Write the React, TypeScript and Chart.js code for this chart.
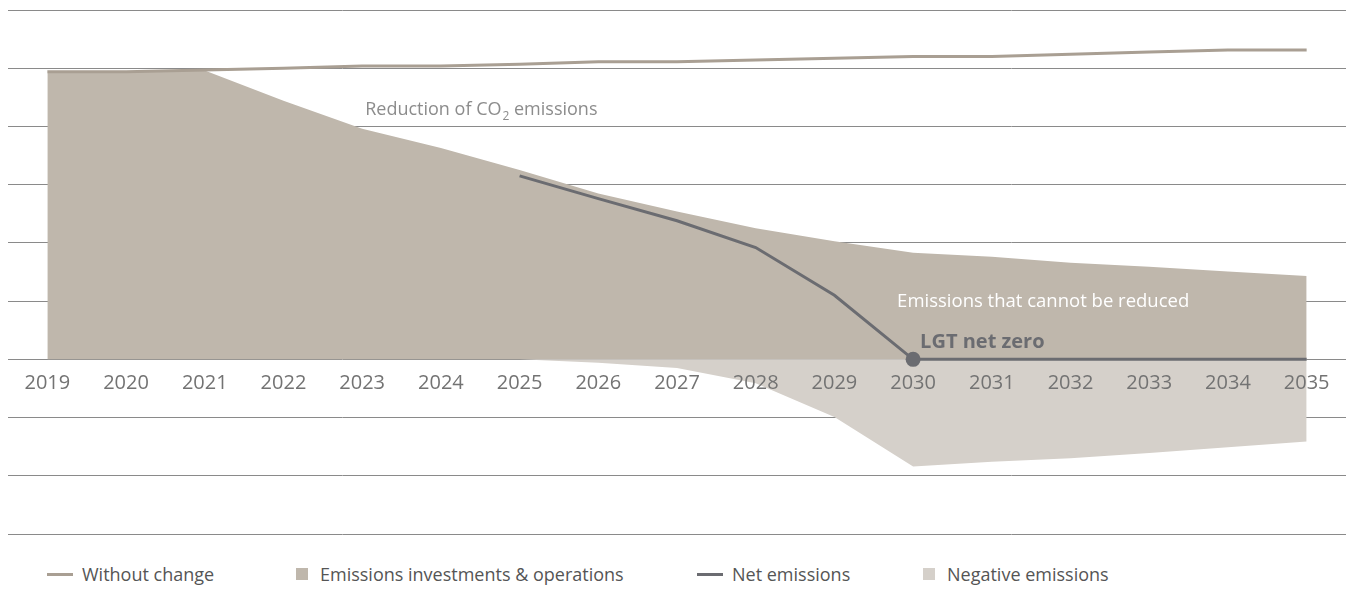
import React, { useEffect, useRef } from "react";
import { Chart, registerables } from "chart.js";

Chart.register(...registerables);

const years = ["2019", "2020", "2021", "2022", "2023", "2024", "2025", "2026", "2027", "2028", "2029", "2030", "2031", "2032", "2033", "2034", "2035"];

const withoutChange = [4.94, 4.94, 4.97, 5.0, 5.04, 5.04, 5.07, 5.11, 5.11, 5.14, 5.17, 5.2, 5.2, 5.24, 5.28, 5.315, 5.315];

const emissionsOperations = [4.92, 4.93, 4.96, 4.44, 3.96, 3.63, 3.25, 2.85, 2.54, 2.25, 2.03, 1.83, 1.76, 1.66, 1.59, 1.51, 1.43];

const netEmissions = [null, null, null, null, null, null, 3.15, 2.76, 2.38, 1.92, 1.1, 0, 0, 0, 0, 0, 0];

const negativeEmissions = [null, null, null, null, null, null, 0, -0.06, -0.15, -0.41, -0.99, -1.84, -1.76, -1.7, -1.61, -1.51, -1.41];

const netZeroIndex = 11;

const legendItems = [
  { label: "Without change", kind: "line", color: "#a99f93", left: 39 },
  { label: "Emissions investments & operations", kind: "box", color: "#bfb7ac", left: 288 },
  { label: "Net emissions", kind: "line", color: "#6b6c71", left: 689 },
  { label: "Negative emissions", kind: "box", color: "#d5d0ca", left: 915 },
];

const FONT = "'Open Sans', 'Noto Sans', 'DejaVu Sans', sans-serif";

const annotationPlugin = {
  id: "textAnnotations",
  afterDatasetsDraw(chart: any) {
    const { ctx, scales } = chart;
    const x = scales.x;
    const y = scales.y;
    ctx.save();
    ctx.textAlign = "left";
    ctx.textBaseline = "alphabetic";

    // Reduction of CO2 emissions
    ctx.fillStyle = "#8c8c8c";
    ctx.font = `18px ${FONT}`;
    let px = x.getPixelForValue(4) + 3;
    const py = y.getPixelForValue(4.19);
    const part1 = "Reduction of CO";
    ctx.fillText(part1, px, py);
    px += ctx.measureText(part1).width;
    ctx.font = `12px ${FONT}`;
    ctx.fillText("2", px + 1, py + 5);
    px += ctx.measureText("2").width + 1;
    ctx.font = `18px ${FONT}`;
    ctx.fillText(" emissions", px, py);

    // Emissions that cannot be reduced
    ctx.fillStyle = "#ffffff";
    ctx.font = `18.5px ${FONT}`;
    ctx.fillText("Emissions that cannot be reduced", x.getPixelForValue(netZeroIndex) - 16, y.getPixelForValue(0.9));

    // LGT net zero
    ctx.fillStyle = "#6b6c71";
    ctx.font = `bold 20px ${FONT}`;
    ctx.fillText("LGT net zero", x.getPixelForValue(netZeroIndex) + 7, y.getPixelForValue(0.19));
    ctx.restore();
  },
};

export default function App() {
  const canvasRef = useRef<HTMLCanvasElement | null>(null);

  useEffect(() => {
    if (!canvasRef.current) return;
    const pointRadius = years.map((_, i) => (i === netZeroIndex ? 7.5 : 0));
    const chart = new Chart(canvasRef.current, {
      type: "line",
      data: {
        labels: years,
        datasets: [
          {
            label: "Net emissions",
            data: netEmissions,
            borderColor: "#6b6c71",
            backgroundColor: "#6b6c71",
            borderWidth: 3,
            pointRadius,
            pointHoverRadius: pointRadius,
            pointBackgroundColor: "#6b6c71",
            pointBorderWidth: 0,
            fill: false,
            spanGaps: false,
          },
          {
            label: "Without change",
            data: withoutChange,
            borderColor: "#a99f93",
            borderWidth: 3,
            pointRadius: 0,
            fill: false,
          },
          {
            label: "Negative emissions",
            data: negativeEmissions,
            borderWidth: 0,
            borderColor: "rgba(0,0,0,0)",
            backgroundColor: "#d5d0ca",
            pointRadius: 0,
            fill: "origin",
          },
          {
            label: "Emissions investments & operations",
            data: emissionsOperations,
            borderWidth: 0,
            borderColor: "rgba(0,0,0,0)",
            backgroundColor: "#bfb7ac",
            pointRadius: 0,
            fill: "origin",
          },
        ],
      },
      options: {
        animation: false,
        responsive: true,
        maintainAspectRatio: false,
        layout: { padding: { top: 2, bottom: 2, left: 0, right: 0 } },
        plugins: {
          legend: { display: false },
          tooltip: { enabled: false },
        },
        scales: {
          x: {
            type: "category",
            offset: true,
            position: { y: 0 } as any,
            z: 1,
            grid: { display: false, drawTicks: false },
            border: { display: false },
            ticks: {
              z: 1,
              color: "#737373",
              font: { family: FONT, size: 20 },
              padding: 12,
              autoSkip: false,
              maxRotation: 0,
            },
            afterFit(scale: any) {
              scale.height = 0;
            },
          },
          y: {
            min: -3,
            max: 6,
            ticks: { display: false, stepSize: 1 },
            grid: { color: "#8a8a8a", lineWidth: 1, drawTicks: false },
            border: { display: false },
          },
        },
      },
      plugins: [annotationPlugin],
    });
    return () => chart.destroy();
  }, []);

  return (
    <div style={{ position: "relative", width: "100%", height: 578, fontFamily: FONT }}>
      <div style={{ position: "relative", height: 528 }}>
        <canvas ref={canvasRef} />
      </div>
      <div
        style={{
          position: "relative",
          height: 50,
          fontSize: 18,
          color: "#555555",
        }}
      >
        {legendItems.map((item) => (
          <div
            key={item.label}
            style={{
              position: "absolute",
              top: 27,
              left: item.left,
              height: 22,
              display: "flex",
              alignItems: "center",
              whiteSpace: "nowrap",
              lineHeight: "22px",
            }}
          >
            {item.kind === "line" ? (
              <span style={{ display: "inline-block", width: 26, height: 3, background: item.color, marginRight: 9 }} />
            ) : (
              <span style={{ display: "inline-block", width: 12, height: 12, background: item.color, marginRight: 12 }} />
            )}
            <span>{item.label}</span>
          </div>
        ))}
      </div>
    </div>
  );
}
